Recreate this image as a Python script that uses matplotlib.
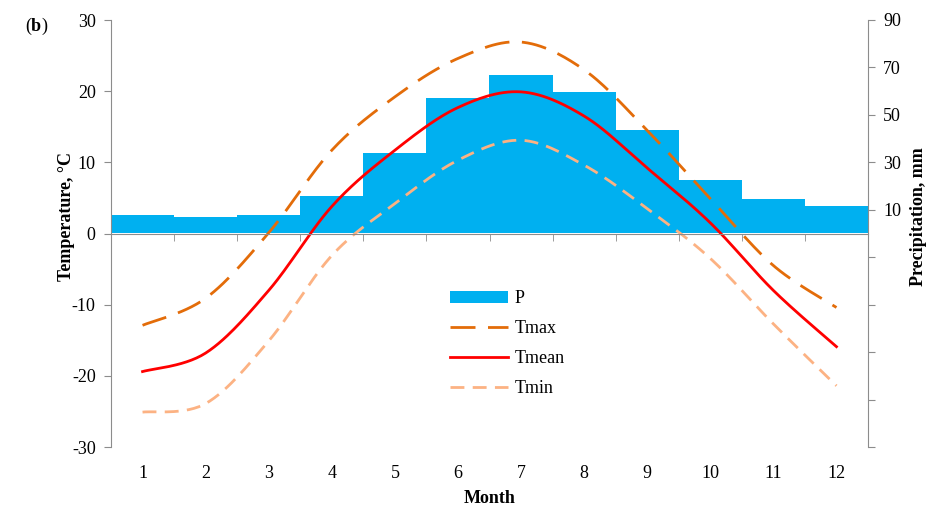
import matplotlib.pyplot as plt
from matplotlib.patches import Patch
from matplotlib.ticker import FixedLocator, FuncFormatter
import numpy as np

plt.rcParams['font.family'] = ['Liberation Serif', 'DejaVu Serif']
plt.rcParams['axes.unicode_minus'] = False
plt.rcParams['mathtext.fontset'] = 'custom'
plt.rcParams['mathtext.rm'] = 'Liberation Serif'
plt.rcParams['mathtext.bf'] = 'Liberation Serif:bold'

months = list(range(1, 13))
precip = [8.0, 6.8, 8.0, 15.6, 34.0, 57.0, 66.7, 59.6, 43.5, 22.4, 14.4, 11.4]
t_max = [-12.9, -9.1, 0.1, 11.7, 19.2, 24.6, 26.9, 23.0, 14.5, 4.9, -4.5, -10.4]
t_mean = [-19.4, -16.8, -8.0, 3.8, 11.7, 17.7, 19.9, 16.5, 9.2, 1.5, -8.0, -15.9]
t_min = [-25.1, -23.9, -15.1, -3.1, 4.2, 10.3, 13.1, 9.6, 3.5, -3.5, -12.7, -21.4]
temp_ticks = [-30, -20, -10, 0, 10, 20, 30]
precip_ticks = [-90, -70, -50, -30, -10, 10, 30, 50, 70, 90]

GRAY = '#8c8c8c'
BLUE = '#00B0F0'
FS = 13


def smooth(x, y, n=30):
  # Excel-style smoothed line: cubic bezier through points
  x = np.asarray(x, float)
  y = np.asarray(y, float)
  P = np.column_stack([x, y])
  out = []
  for i in range(len(P) - 1):
    p0 = P[i - 1] if i > 0 else P[i]
    p1, p2 = P[i], P[i + 1]
    p3 = P[i + 2] if i + 2 < len(P) else P[i + 1]
    c1 = p1 + (p2 - p0) / 6
    c2 = p2 - (p3 - p1) / 6
    t = np.linspace(0, 1, n)[:, None]
    seg = ((1 - t) ** 3) * p1 + 3 * ((1 - t) ** 2) * t * c1 + 3 * (1 - t) * t ** 2 * c2 + t ** 3 * p2
    out.append(seg if i == 0 else seg[1:])
  out = np.vstack(out)
  return out[:, 0], out[:, 1]


fig = plt.figure(figsize=(9.3, 5.11), dpi=100)
ax = fig.add_axes([111 / 930, 1 - 447 / 511, (868 - 111) / 930, (447 - 20) / 511])
ax2 = ax.twinx()

ax2.bar(months, precip, width=1.0, color=BLUE, zorder=1)
ax2.set_ylim(-90, 90)
ax2.yaxis.set_major_locator(FixedLocator(precip_ticks))
ax2.yaxis.set_major_formatter(FuncFormatter(lambda v, p: f'{v:.0f}' if v > 0 else ''))
ax2.set_ylabel('Precipitation, mm', fontsize=FS, fontweight='bold')
ax2.yaxis.set_label_coords(1.055, 0.54)

ax.set_zorder(ax2.get_zorder() + 1)
ax.patch.set_visible(False)

lw = 2.0
l1, = ax.plot(*smooth(months, t_max), color='#E36C09', lw=lw, dashes=(9, 4.5))
l2, = ax.plot(*smooth(months, t_mean), color='#FF0000', lw=lw)
l3, = ax.plot(*smooth(months, t_min), color='#FCB283', lw=lw, dashes=(5, 3))

ax.set_xlim(0.5, 12.5)
ax.set_ylim(-30, 30)
ax.set_yticks(temp_ticks)
ax.set_ylabel('Temperature, °C', fontsize=FS, fontweight='bold')
ax.yaxis.set_label_coords(-0.048, 0.54)

# zero axis with category boundary ticks
ax.spines['bottom'].set_position(('data', 0))
ax.spines['bottom'].set_color(GRAY)
ax.set_xticks([])
ax.set_xticks(np.arange(0.5, 13, 1), minor=True)
ax.tick_params(axis='x', which='minor', length=5, color=GRAY, labelbottom=False, direction='out')

sec = ax.secondary_xaxis('bottom')
sec.set_xticks(months)
sec.spines['bottom'].set_visible(False)
sec.tick_params(length=0, labelsize=FS, pad=13)
sec.set_xlabel('Month', fontsize=FS, fontweight='bold', labelpad=6)

for a in (ax, ax2):
  a.spines['top'].set_visible(False)
ax.spines['right'].set_visible(False)
ax2.spines['left'].set_visible(False)
ax2.spines['bottom'].set_visible(False)
ax.spines['left'].set_color(GRAY)
ax2.spines['right'].set_color(GRAY)
ax.tick_params(axis='y', labelsize=FS, color=GRAY, length=5, pad=6)
ax2.tick_params(axis='y', labelsize=FS, color=GRAY, length=5, pad=6)

handles = [Patch(facecolor=BLUE, edgecolor='none'), l1, l2, l3]
ax.legend(handles, ['P', 'Tmax', 'Tmean', 'Tmin'], loc='upper left',
          bbox_to_anchor=(0.448, 0.367), frameon=False, fontsize=FS,
          borderaxespad=0, borderpad=0,
          handlelength=3.2, labelspacing=0.72, handletextpad=0.35)

fig.text(25 / 930, 1 - 26 / 511, r'($\mathbf{b}$)', fontsize=FS, va='center')

fig.savefig('out.png', dpi=100)
